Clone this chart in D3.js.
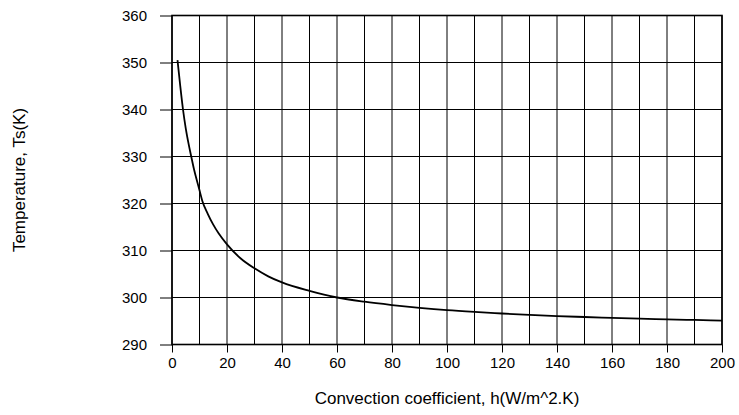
<!DOCTYPE html>
<html><head><meta charset="utf-8">
<script src="https://cdn.jsdelivr.net/npm/d3@7"></script>
<style>body{margin:0;background:#fff}svg{display:block}text{font-family:"Liberation Sans",Arial,sans-serif}</style>
</head><body>
<svg id="c" width="739" height="415"></svg>
<script>
const hValues = [2, 3, 4, 5, 6, 7, 8, 9, 10, 11, 13, 15, 17, 20, 25, 30, 35, 40, 50, 60, 70, 80, 90, 100, 110, 120, 130, 140, 150, 160, 170, 180, 190, 200];
const tsValues = [350.5, 345, 340, 336, 332.8, 330, 327.3, 325, 322.8, 320.6, 317.8, 315.5, 313.6, 311.3, 308.3, 306.2, 304.5, 303.2, 301.4, 300.0, 299.1, 298.4, 297.8, 297.3, 296.92, 296.6, 296.3, 296.05, 295.85, 295.67, 295.5, 295.36, 295.22, 295.1];
const xTicks = [0, 20, 40, 60, 80, 100, 120, 140, 160, 180, 200];
const yTicks = [290, 300, 310, 320, 330, 340, 350, 360];
const xGrid = d3.range(0, 201, 10);
const xTitle = "Convection coefficient, h(W/m^2.K)";
const yTitle = "Temperature, Ts(K)";

const svg = d3.select("#c");
const L = 172, R = 722, T = 15.5, B = 344.5;
const x = d3.scaleLinear().domain([0, 200]).range([L, R]);
const y = d3.scaleLinear().domain([290, 360]).range([B, T]);
const FONT = '"Liberation Sans", Arial, sans-serif';

// grid
svg.append("g").selectAll("line").data(xGrid).join("line")
  .attr("x1", d => x(d)).attr("x2", d => x(d)).attr("y1", T).attr("y2", B)
  .attr("stroke", "#000").attr("stroke-width", 1);
svg.append("g").selectAll("line").data(yTicks).join("line")
  .attr("x1", L).attr("x2", R).attr("y1", d => y(d)).attr("y2", d => y(d))
  .attr("stroke", "#000").attr("stroke-width", 1);

// axes
const xAxis = d3.axisBottom(x).tickValues(xTicks).tickSize(8).tickPadding(5).tickFormat(d3.format("d"));
const gx = svg.append("g").attr("transform", `translate(0,${B})`).call(xAxis);
gx.select(".domain").remove();
gx.selectAll("line").attr("stroke", "#000").attr("stroke-width", 1);
gx.selectAll("text").attr("font-size", 15).attr("fill", "#000").style("font-family", FONT);

const yAxis = d3.axisLeft(y).tickValues(yTicks).tickSize(12).tickPadding(13).tickFormat(d3.format("d"));
const gy = svg.append("g").attr("transform", `translate(${L},0)`).call(yAxis);
gy.select(".domain").remove();
gy.selectAll("line").attr("stroke", "#000").attr("stroke-width", 1);
gy.selectAll("text").attr("font-size", 15).attr("fill", "#000").style("font-family", FONT);

// frame
svg.append("rect").attr("x", L).attr("y", T).attr("width", R - L).attr("height", B - T)
  .attr("fill", "none").attr("stroke", "#000").attr("stroke-width", 1.6);

// curve
const pts = hValues.map((h, i) => [h, tsValues[i]]);
svg.append("path").datum(pts)
  .attr("fill", "none").attr("stroke", "#000").attr("stroke-width", 1.8)
  .attr("d", d3.line().x(d => x(d[0])).y(d => y(d[1])).curve(d3.curveMonotoneX));

// titles
svg.append("text").attr("x", (L + R) / 2).attr("y", 404).attr("text-anchor", "middle")
  .attr("font-size", 17).style("font-family", FONT).text(xTitle);
svg.append("text").attr("transform", `translate(25,${(T + B) / 2}) rotate(-90)`)
  .attr("text-anchor", "middle").attr("font-size", 17).style("font-family", FONT).text(yTitle);
</script>
</body></html>
